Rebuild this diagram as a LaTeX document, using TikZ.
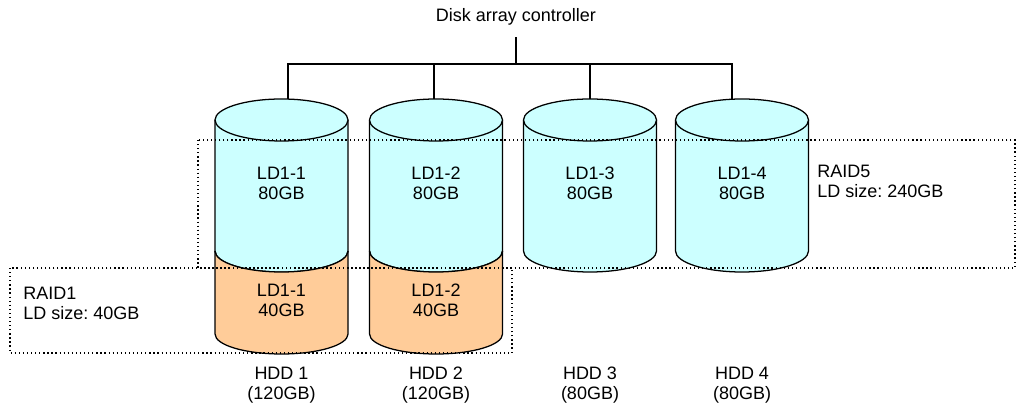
\documentclass[tikz,border=0pt]{standalone}
\usepackage{fontspec}
\setmainfont{Liberation Sans}
\usetikzlibrary{positioning}
\frenchspacing

\definecolor{ldblue}{HTML}{CCFFFF}
\definecolor{ldorange}{HTML}{FFCC99}

\begin{document}
\begin{tikzpicture}[
  x=0.025cm,y=0.025cm,
  every node/.style={font={\fontsize{12.8}{14.2}\selectfont}},
  disk/.style={draw,line width=0.9pt},
  wire/.style={draw,line width=0.9pt},
  raid/.style={draw,dotted,line width=0.9pt},
  lbl/.style={align=center,inner sep=0pt},
  note/.style={align=left,anchor=west,inner sep=0pt},
]
  \useasboundingbox (0,0) rectangle (1016,412);

  % Disks (upper, RAID5 part)
  \foreach \c/\d/\n in {281.5/288/1,436/434/2,590/590/3,742/732/4}{
    \fill[ldblue] (\c-66.5,292) -- (\c-66.5,161)
      arc[start angle=180,end angle=360,x radius=66.5,y radius=21]
      -- (\c+66.5,292) -- cycle;
    \draw[disk] (\c-66.5,292) -- (\c-66.5,161)
      arc[start angle=180,end angle=360,x radius=66.5,y radius=21]
      -- (\c+66.5,292);
    \draw[disk,fill=ldblue] (\c,292) ellipse[x radius=66.5,y radius=21];
    \coordinate (top\n) at (\d,313);
    \node[lbl] (ldv\n) at (\c,229) {LD1-\n\\80GB};
  }

  % Disks (lower, RAID1 part)
  \foreach \c/\n in {281.5/1,436/2}{
    \fill[ldorange] (\c-66.5,161)
      arc[start angle=180,end angle=360,x radius=66.5,y radius=21]
      -- (\c+66.5,78)
      arc[start angle=0,end angle=-180,x radius=66.5,y radius=20] -- cycle;
    \draw[disk] (\c-66.5,161) arc[start angle=180,end angle=360,x radius=66.5,y radius=21];
    \draw[disk] (\c-66.5,161) -- (\c-66.5,78)
      arc[start angle=180,end angle=360,x radius=66.5,y radius=20]
      -- (\c+66.5,161);
    \node[lbl] (ldm\n) at (\c,112) {LD1-\n\\40GB};
  }

  % HDD labels
  \foreach \c/\n/\s in {281.5/1/120GB,436/2/120GB,590/3/80GB,742/4/80GB}
    \node[lbl] (hdd\n) at (\c,27) {HDD \n\\(\s)};

  % Controller
  \node[anchor=base,inner ysep=7.9pt] (ctrl) at (516,390) {Disk array controller};
  \coordinate (bus) at (516,348);
  \draw[wire] (ctrl.south) -- (bus);
  \draw[wire] (top1) |- (bus) -| (top4);
  \draw[wire] (top2) -- (top2 |- bus);
  \draw[wire] (top3) -- (top3 |- bus);

  % RAID groups
  \draw[raid] (198,272) rectangle (1015,144);
  \draw[raid] (10,144) rectangle (512,59);
  \node[note] (raid5) at (817,231) {RAID5\\LD size: 240GB};
  \node[note] (raid1) at (23,109) {RAID1\\LD size: 40GB};
\end{tikzpicture}
\end{document}
